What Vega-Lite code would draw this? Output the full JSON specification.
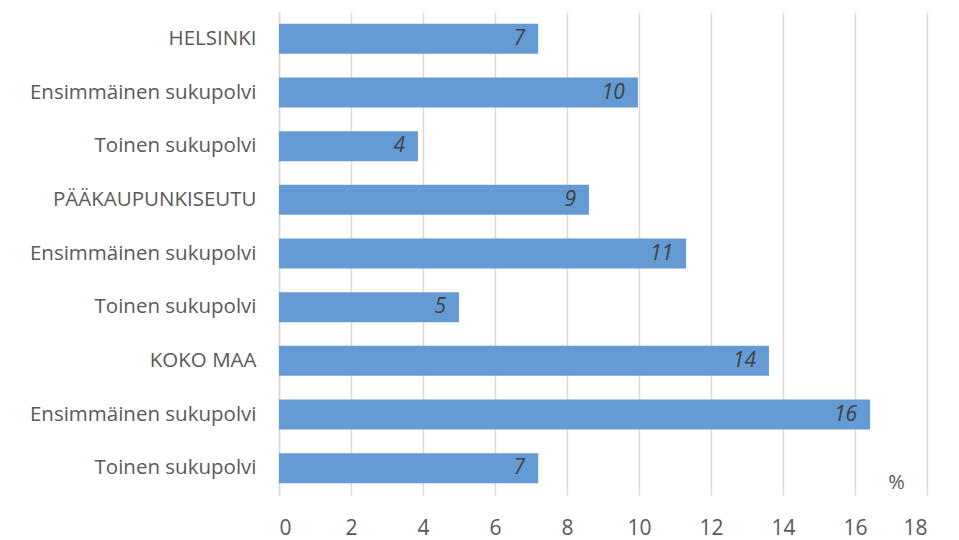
{
  "$schema": "https://vega.github.io/schema/vega-lite/v6.json",
  "autosize": "none",
  "width": 648,
  "height": 483,
  "padding": {"left": 279, "top": 12, "right": 32, "bottom": 45},
  "background": "white",
  "config": {
    "view": {"stroke": null},
    "font": "Open Sans"
  },
  "data": {
    "values": [
      {"key": "1|HELSINKI", "value": 7.2, "shown": "7"},
      {"key": "2|Ensimmäinen sukupolvi", "value": 9.97, "shown": "10"},
      {"key": "3|Toinen sukupolvi", "value": 3.86, "shown": "4"},
      {"key": "4|PÄÄKAUPUNKISEUTU", "value": 8.61, "shown": "9"},
      {"key": "5|Ensimmäinen sukupolvi", "value": 11.31, "shown": "11"},
      {"key": "6|Toinen sukupolvi", "value": 5.0, "shown": "5"},
      {"key": "7|KOKO MAA", "value": 13.61, "shown": "14"},
      {"key": "8|Ensimmäinen sukupolvi", "value": 16.42, "shown": "16"},
      {"key": "9|Toinen sukupolvi", "value": 7.2, "shown": "7"}
    ]
  },
  "layer": [
    {
      "mark": {"type": "bar", "color": "#659BD4"},
      "encoding": {
        "y": {
          "field": "key",
          "type": "nominal",
          "sort": null,
          "scale": {"paddingInner": 0.44, "paddingOuter": 0.22},
          "axis": {
            "title": null,
            "domain": true,
            "domainColor": "#d9d9d9",
            "domainWidth": 1.5,
            "ticks": false,
            "labelExpr": "split(datum.label, '|')[1]",
            "labelFont": "Open Sans",
            "labelFontSize": 20.5,
            "labelLimit": 400,
            "labelColor": "#595959",
            "labelPadding": 23
          }
        },
        "x": {
          "field": "value",
          "type": "quantitative",
          "scale": {"domain": [0, 18], "nice": false},
          "axis": {
            "title": null,
            "values": [0, 2, 4, 6, 8, 10, 12, 14, 16, 18],
            "domain": false,
            "ticks": false,
            "grid": true,
            "gridColor": "#d9d9d9",
            "gridWidth": 1.5,
            "labelFont": "Open Sans",
            "labelFontSize": 21,
            "labelColor": "#595959",
            "labelPadding": 22
          }
        }
      }
    },
    {
      "mark": {"type": "text", "align": "right", "baseline": "middle", "dx": -13, "fontStyle": "italic", "fontSize": 21, "color": "#404040", "font": "Open Sans"},
      "encoding": {
        "y": {"field": "key", "type": "nominal", "sort": null},
        "x": {"field": "value", "type": "quantitative"},
        "text": {"field": "shown"}
      }
    },
    {
      "data": {"values": [{"t": "%"}]},
      "mark": {"type": "text", "align": "center", "baseline": "middle", "dy": 15, "fontSize": 20, "color": "#595959", "font": "Open Sans"},
      "encoding": {
        "x": {"datum": 17.15, "type": "quantitative"},
        "y": {"datum": "9|Toinen sukupolvi", "type": "nominal"},
        "text": {"field": "t"}
      }
    }
  ]
}
